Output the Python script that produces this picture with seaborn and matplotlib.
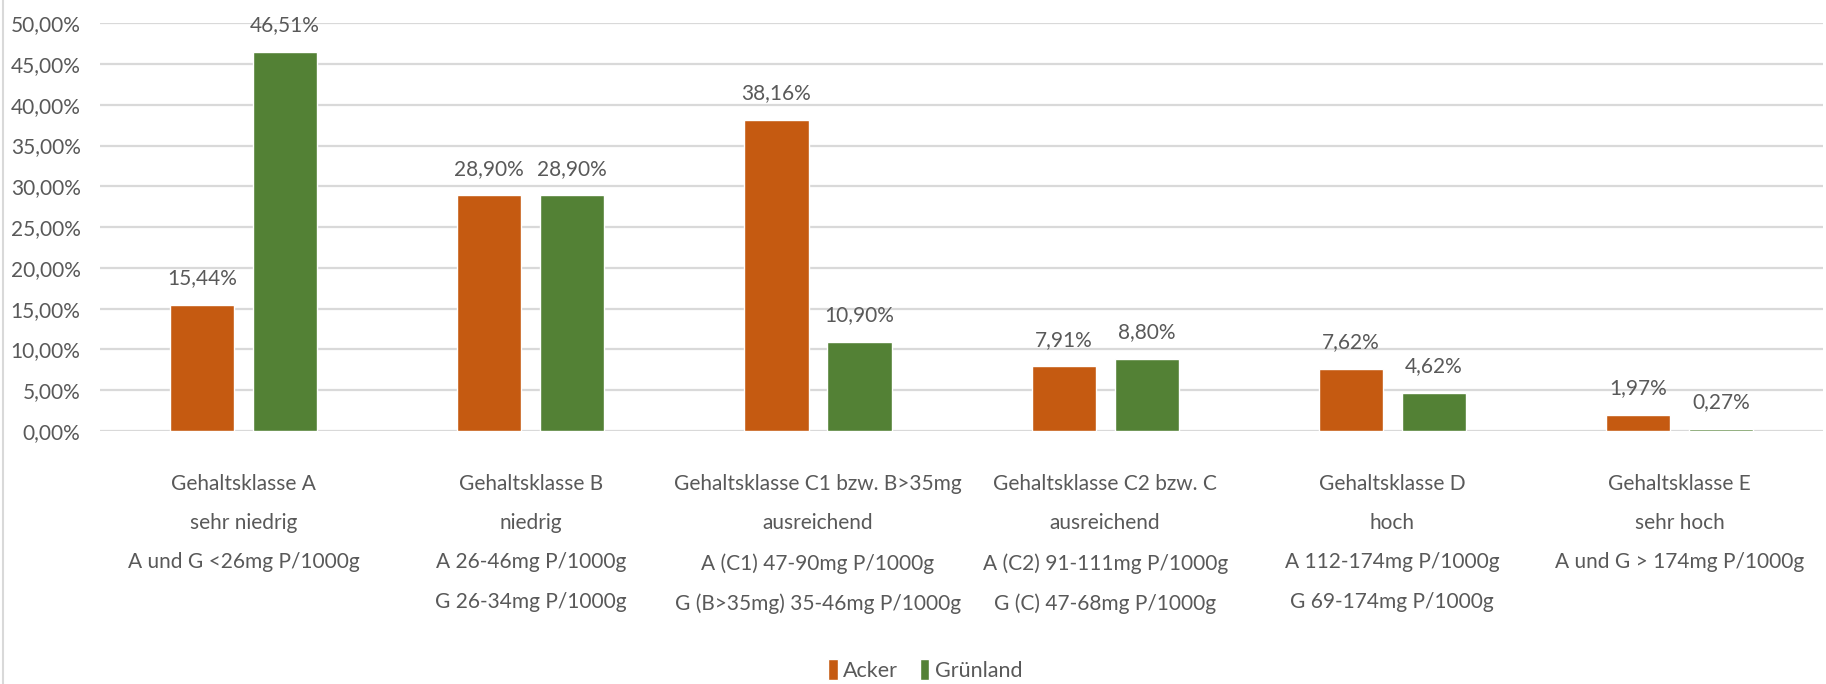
import matplotlib
matplotlib.use("Agg")
import matplotlib.pyplot as plt
from matplotlib.lines import Line2D
from matplotlib.ticker import FuncFormatter
import seaborn as sns
import pandas as pd

# Phosphorus content classes (Gehaltsklassen) and share of samples per land use
categories = [
    "Gehaltsklasse A\nsehr niedrig\nA und G <26mg P/1000g",
    "Gehaltsklasse B\nniedrig\nA 26-46mg P/1000g\nG 26-34mg P/1000g",
    "Gehaltsklasse C1 bzw. B>35mg\nausreichend\nA (C1) 47-90mg P/1000g\nG (B>35mg) 35-46mg P/1000g",
    "Gehaltsklasse C2 bzw. C\nausreichend\nA (C2) 91-111mg P/1000g\nG (C) 47-68mg P/1000g",
    "Gehaltsklasse D\nhoch\nA 112-174mg P/1000g\nG 69-174mg P/1000g",
    "Gehaltsklasse E\nsehr hoch\nA und G > 174mg P/1000g",
]
series_names = ["Acker", "Grünland"]
acker = [15.44, 28.90, 38.16, 7.91, 7.62, 1.97]
gruenland = [46.51, 28.90, 10.90, 8.80, 4.62, 0.27]
y_ticks = [0, 5, 10, 15, 20, 25, 30, 35, 40, 45, 50]

colors = {"Acker": "#C55A11", "Grünland": "#538135"}
text_color = "#595959"
grid_color = "#D9D9D9"
fs = 15

df = pd.DataFrame({
    "Klasse": categories * 2,
    "Nutzung": [series_names[0]] * len(acker) + [series_names[1]] * len(gruenland),
    "Anteil": acker + gruenland,
})

sns.set_theme(style="white")
plt.rcParams["font.family"] = ["Lato", "DejaVu Sans"]
plt.rcParams["text.color"] = text_color

fig = plt.figure(figsize=(18.26, 6.84), dpi=100)
ax = fig.add_axes([0.0548, 0.370, 0.9436, 0.596])

sns.barplot(data=df, x="Klasse", y="Anteil", hue="Nutzung",
            hue_order=series_names, order=categories, palette=colors,
            width=0.578, gap=0.228, ax=ax, errorbar=None, saturation=1)

def fmt_pct(v):
    return f"{v:.2f}".replace(".", ",") + "%"

for container in ax.containers:
    ax.bar_label(container, labels=[fmt_pct(b.get_height()) for b in container],
                 padding=12, fontsize=fs, color=text_color)

ax.set_ylim(0, 50)
ax.set_xlim(-0.5, len(categories) - 0.5)
ax.set_yticks(y_ticks)
ax.yaxis.set_major_formatter(FuncFormatter(lambda v, _: fmt_pct(v)))
ax.grid(axis="y", color=grid_color, linewidth=1.6)
ax.set_axisbelow(True)
for s in ax.spines.values():
    s.set_visible(False)
ax.set_xlabel("")
ax.set_ylabel("")
ax.tick_params(axis="y", length=0, pad=14, labelsize=fs, labelcolor=text_color)
ax.tick_params(axis="x", length=0, pad=31, labelsize=fs, labelcolor=text_color)
for lbl in ax.get_xticklabels():
    lbl.set_linespacing(2.2)
    lbl.set_horizontalalignment("center")

sns.move_legend(ax, "center", bbox_to_anchor=(0.5066, 0.02),
                bbox_transform=fig.transFigure, ncol=2, frameon=False,
                title=None, fontsize=fs + 0.5, handlelength=0.45, handleheight=1.1,
                handletextpad=0.25, columnspacing=1.0)
for t in ax.get_legend().get_texts():
    t.set_color(text_color)

# thin chart-area border on the left edge
fig.add_artist(Line2D([0.0018, 0.0018], [0, 1], transform=fig.transFigure,
                      color="#D9D9D9", linewidth=1.5))

fig.savefig("out.png", dpi=100, facecolor="white")
